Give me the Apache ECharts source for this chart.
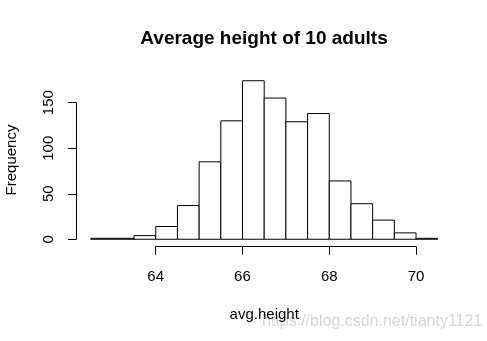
<!DOCTYPE html>
<html>
<head>
<meta charset="utf-8">
<script src="https://cdn.jsdelivr.net/npm/echarts@6/dist/echarts.min.js"></script>
<style>html,body{margin:0;padding:0;background:#fff;}#c{width:487px;height:341px;}</style>
</head>
<body>
<div id="c"></div>
<script>
var titleText = 'Average height of 10 adults';
var xLabel = 'avg.height';
var yLabel = 'Frequency';
var watermark = 'https://blog.csdn.net/tianty1121';
var breaks = [62.5, 63, 63.5, 64, 64.5, 65, 65.5, 66, 66.5, 67, 67.5, 68, 68.5, 69, 69.5, 70, 70.5];
var counts = [1, 1, 4, 14, 37, 85, 130, 174, 155, 129, 138, 64, 39, 21, 7, 1];
var xTicks = [64, 66, 68, 70];
var yTicks = [0, 50, 100, 150];

var FONT = '"Liberation Sans", Arial, Helvetica, sans-serif';
var data = counts.map(function (c, i) { return [breaks[i], breaks[i + 1], c]; });
var xmin = breaks[0], xmax = breaks[breaks.length - 1];
var xpad = (xmax - xmin) * 0.04;
var ymax = Math.max.apply(null, counts);
var ypad = ymax * 0.04;

var chart = echarts.init(document.getElementById('c'), null, {renderer: 'canvas'});
chart.setOption({
  backgroundColor: '#fff',
  animation: false,
  title: {
    text: titleText, left: 264, top: 29, padding: 0, textAlign: 'center',
    textStyle: {fontFamily: FONT, fontWeight: 'bold', fontSize: 19, color: '#000'}
  },
  grid: [
    {left: 76.8, right: 35.4, top: 74.4, bottom: 95.4, containLabel: false, outerBoundsMode: 'none'},
    {left: 155.7, right: 71, top: 74.4, bottom: 94.3, containLabel: false, outerBoundsMode: 'none'},
    {left: 76, right: 35.4, top: 102.7, bottom: 101.7, containLabel: false, outerBoundsMode: 'none'}
  ],
  xAxis: [
    {gridIndex: 0, type: 'value', min: xmin - xpad, max: xmax + xpad, scale: true,
     axisLine: {show: false}, axisTick: {show: false}, axisLabel: {show: false}, splitLine: {show: false},
     name: xLabel, nameLocation: 'middle', nameGap: 62,
     nameTextStyle: {fontFamily: FONT, fontSize: 15, color: '#000'}},
    {gridIndex: 1, type: 'value', min: xTicks[0], max: xTicks[xTicks.length - 1], interval: xTicks[1] - xTicks[0],
     axisLine: {show: true, lineStyle: {color: '#000', width: 1}},
     axisTick: {show: true, length: 8, lineStyle: {color: '#000'}},
     axisLabel: {show: true, margin: 23, fontFamily: FONT, fontSize: 15, color: '#000', showMinLabel: true, showMaxLabel: true},
     splitLine: {show: false}},
    {gridIndex: 2, type: 'value', show: false}
  ],
  yAxis: [
    {gridIndex: 0, type: 'value', min: -ypad, max: ymax + ypad, scale: true,
     axisLine: {show: false}, axisTick: {show: false}, axisLabel: {show: false}, splitLine: {show: false},
     name: yLabel, nameLocation: 'middle', nameGap: 57, nameRotate: 90,
     nameTextStyle: {fontFamily: FONT, fontSize: 15, color: '#000'}},
    {gridIndex: 1, type: 'value', show: false},
    {gridIndex: 2, type: 'value', min: yTicks[0], max: yTicks[yTicks.length - 1], interval: yTicks[1] - yTicks[0],
     axisLine: {show: true, lineStyle: {color: '#000', width: 1}},
     axisTick: {show: true, length: 8, lineStyle: {color: '#000'}},
     axisLabel: {show: true, rotate: 90, margin: 20, fontFamily: FONT, fontSize: 15, color: '#000', showMinLabel: true, showMaxLabel: true},
     splitLine: {show: false}}
  ],
  graphic: [
    {type: 'text', left: 262, top: 314, style: {text: watermark, font: '16px ' + FONT, fill: '#d6d6d6'}}
  ],
  series: [{
    type: 'custom', xAxisIndex: 0, yAxisIndex: 0,
    data: data,
    encode: {x: [0, 1], y: 2},
    renderItem: function (params, api) {
      var p0 = api.coord([api.value(0), api.value(2)]);
      var p1 = api.coord([api.value(1), 0]);
      return {type: 'rect',
        shape: {x: p0[0], y: p0[1], width: p1[0] - p0[0], height: p1[1] - p0[1]},
        style: {fill: '#fff', stroke: '#000', lineWidth: 1}};
    }
  }]
});
</script>
</body>
</html>
